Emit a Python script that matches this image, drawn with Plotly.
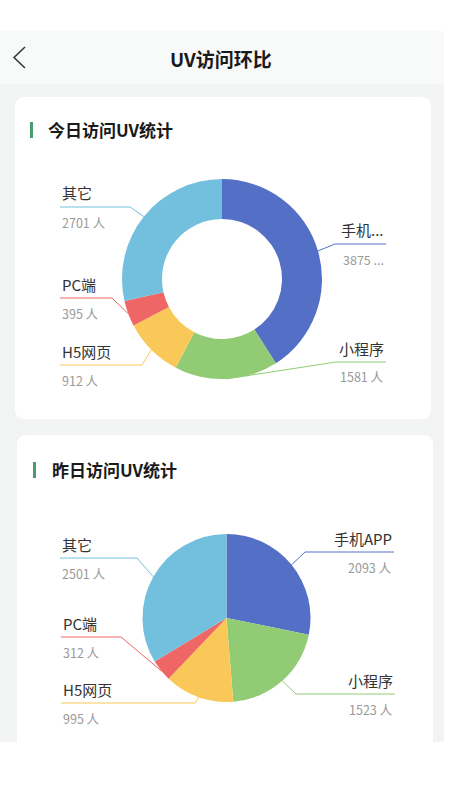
import math
import plotly.graph_objects as go

# ---------------- data ----------------
CATEGORIES = ["手机APP", "小程序", "H5网页", "PC端", "其它"]
TODAY_UV = [3875, 1581, 912, 395, 2701]
YESTERDAY_UV = [2093, 1523, 995, 312, 2501]
UNIT = "人"
PAGE_TITLE = "UV访问环比"
TODAY_TITLE = "今日访问UV统计"
YESTERDAY_TITLE = "昨日访问UV统计"
# labels that the original app truncated (index of category)
TODAY_TRUNCATED = [0]

# ---------------- style ----------------
COLORS = ["#5470c6", "#91cc75", "#fac858", "#ee6666", "#73c0de"]
W, H = 449, 800
FONT = "Noto Sans CJK SC"


def fx(x):
    return x / W


def fy(y):
    return 1 - y / H


fig = go.Figure()
shapes = []
annotations = []


def rounded_rect(x0, y0, x1, y1, r, color, layer="below"):
    p = (f"M {fx(x0 + r)} {fy(y0)} L {fx(x1 - r)} {fy(y0)} Q {fx(x1)} {fy(y0)} {fx(x1)} {fy(y0 + r)} "
         f"L {fx(x1)} {fy(y1 - r)} Q {fx(x1)} {fy(y1)} {fx(x1 - r)} {fy(y1)} "
         f"L {fx(x0 + r)} {fy(y1)} Q {fx(x0)} {fy(y1)} {fx(x0)} {fy(y1 - r)} "
         f"L {fx(x0)} {fy(y0 + r)} Q {fx(x0)} {fy(y0)} {fx(x0 + r)} {fy(y0)} Z")
    shapes.append(dict(type="path", path=p, xref="paper", yref="paper",
                       fillcolor=color, line=dict(width=0), layer=layer))


def rect(x0, y0, x1, y1, color, layer="below"):
    shapes.append(dict(type="rect", xref="paper", yref="paper",
                       x0=fx(x0), x1=fx(x1), y0=fy(y1), y1=fy(y0),
                       fillcolor=color, line=dict(width=0), layer=layer))


def text(x, y, s, size, color, anchor="left", bold=False):
    annotations.append(dict(x=fx(x), y=fy(y), xref="paper", yref="paper",
                            text=f"<b>{s}</b>" if bold else s, showarrow=False,
                            xanchor=anchor, yanchor="middle",
                            font=dict(family=FONT, size=size, color=color)))


# page background
rect(0, 31, 444, 84, "#f8f9f9")
rect(0, 84, 444, 742, "#f2f4f4")
# header
text(221, 58, PAGE_TITLE, 19, "#1a1a1a", anchor="center", bold=True)
shapes.append(dict(type="path", xref="paper", yref="paper",
                   path=f"M {fx(25)} {fy(47)} L {fx(14)} {fy(57.5)} L {fx(25)} {fy(68)}",
                   line=dict(color="#333333", width=1.5)))

# cards
rounded_rect(15, 97, 431, 419, 10, "#ffffff")
rounded_rect(17, 435, 433, 760, 10, "#ffffff")
rect(0, 742, 449, 800, "#ffffff")

# card titles with green bar
rect(30, 122, 33, 138, "#4a9a72")
text(46, 129, TODAY_TITLE, 17, "#1a1a1a", bold=True)
rect(33, 462, 36, 478, "#4a9a72")
text(50, 469, YESTERDAY_TITLE, 17, "#1a1a1a", bold=True)


def add_pie(values, cx, cy, r, hole, line_y, elbow_x, end_x, truncated):
    fig.add_trace(go.Pie(
        labels=CATEGORIES, values=values, sort=False, direction="clockwise",
        rotation=0, hole=hole, textinfo="none", hoverinfo="label+value",
        marker=dict(colors=COLORS, line=dict(width=0)),
        domain=dict(x=[fx(cx - r), fx(cx + r)], y=[fy(cy + r), fy(cy - r)]),
        showlegend=False,
    ))
    total = sum(values)
    cum = 0
    for i, v in enumerate(values):
        mid = (cum + v / 2) / total * 2 * math.pi
        cum += v
        ax = cx + r * math.sin(mid)
        ay = cy - r * math.cos(mid)
        right = end_x[i] > cx
        shapes.append(dict(type="path", xref="paper", yref="paper",
                           path=f"M {fx(ax)} {fy(ay)} L {fx(elbow_x[i])} {fy(line_y[i])} "
                                f"L {fx(end_x[i])} {fy(line_y[i])}",
                           line=dict(color=COLORS[i], width=1), layer="above"))
        name = CATEGORIES[i]
        val = f"{v} {UNIT}"
        if i in truncated:
            name = name[:2] + "..."
            val = f"{v} ..."
        anchor = "right" if right else "left"
        text(end_x[i], line_y[i] - 14, name, 15, "#333333", anchor=anchor)
        text(end_x[i], line_y[i] + 15, val, 12.5, "#9a9a9a", anchor=anchor)


add_pie(TODAY_UV, 222, 279, 100, 0.6,
        line_y=[244, 362, 365, 298, 207],
        elbow_x=[335, 336, 142, 112, 130],
        end_x=[386, 386, 60, 60, 60],
        truncated=TODAY_TRUNCATED)
add_pie(YESTERDAY_UV, 226.5, 618, 84, 0,
        line_y=[552, 694, 703, 637, 558],
        elbow_x=[305, 296, 195, 121, 137],
        end_x=[394, 395, 61, 61, 60],
        truncated=[])

fig.update_layout(
    width=W, height=H, autosize=False,
    margin=dict(l=0, r=0, t=0, b=0),
    paper_bgcolor="#ffffff", plot_bgcolor="#ffffff",
    shapes=shapes, annotations=annotations,
    font=dict(family=FONT),
)
fig.write_html("out.html", config={"displayModeBar": False},
               post_script="document.body.style.margin='0';document.body.style.overflow='hidden';")
